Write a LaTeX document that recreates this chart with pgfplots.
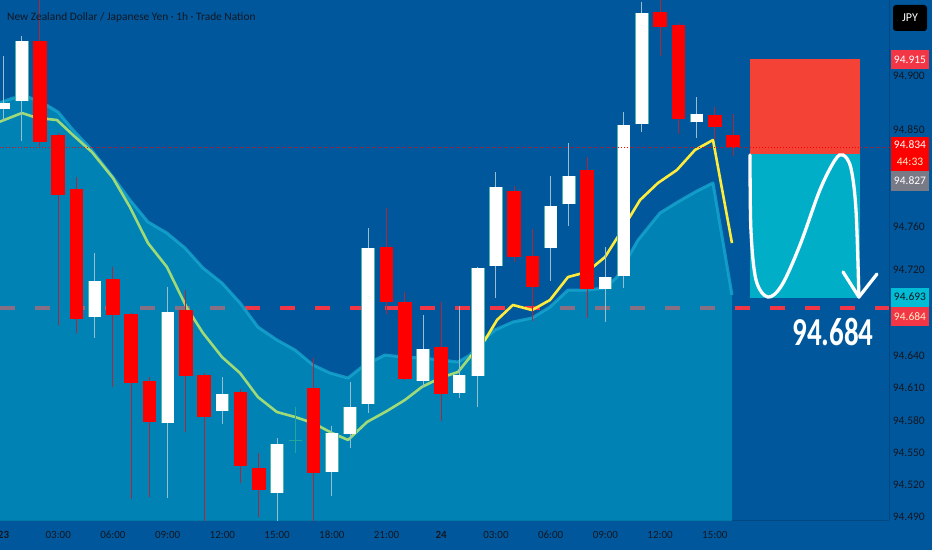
\documentclass[border=0pt]{standalone}
\usepackage{fontspec}
\setmainfont{Carlito}
\usepackage{pgfplots}
\pgfplotsset{compat=1.18}
\usepackage{pgfplotstable}
\definecolor{bg}{RGB}{1,87,155}
\definecolor{axl}{RGB}{0,72,132}
\definecolor{lbl}{RGB}{19,23,34}
\definecolor{areac}{RGB}{0,188,212}
\definecolor{edgec}{RGB}{25,170,210}
\definecolor{emag}{RGB}{160,218,120}
\definecolor{emay}{RGB}{255,235,59}
\definecolor{candr}{RGB}{255,0,0}
\definecolor{wickr}{RGB}{170,40,60}
\definecolor{wickw}{RGB}{150,190,205}
\definecolor{bordw}{RGB}{80,180,175}
\definecolor{dojic}{RGB}{38,166,154}
\definecolor{dashr}{RGB}{242,54,69}
\definecolor{posred}{RGB}{244,67,54}
\definecolor{posteal}{RGB}{0,174,200}
\definecolor{tagred}{RGB}{242,54,69}
\definecolor{taggrey}{RGB}{120,123,134}
\definecolor{tagcyan}{RGB}{0,188,212}
\definecolor{tagyel}{RGB}{255,240,200}

\pgfplotstableread{
h o hi lo c
0 94.8690 94.9186 94.8590 94.8752
1 94.8770 94.9372 94.8398 94.9328
5 94.6757 94.7357 94.6567 94.7097
9 94.5771 94.7041 94.5074 94.6803
12 94.5885 94.6204 94.5765 94.6046
15 94.5120 94.5637 94.4840 94.5576
18 94.5321 94.5746 94.5095 94.5684
19 94.5672 94.6152 94.5539 94.5920
20 94.5948 94.7587 94.5864 94.7398
23 94.6167 94.6778 94.6111 94.6465
25 94.6053 94.6862 94.6004 94.6217
26 94.6214 94.7220 94.5920 94.7218
27 94.7236 94.8110 94.6939 94.7971
30 94.7404 94.8070 94.7097 94.7791
31 94.7807 94.8374 94.7608 94.8073
33 94.7020 94.7413 94.6716 94.7134
34 94.7138 94.8668 94.7026 94.8547
35 94.8551 94.9691 94.8477 94.9583
38 94.8570 94.8808 94.8421 94.8644
}\bull

\pgfplotstableread{
h o hi lo c
2 94.9330 94.9750 94.8349 94.8386
3 94.8449 94.8473 94.6685 94.7896
4 94.7947 94.8058 94.6608 94.6741
6 94.7115 94.7227 94.6106 94.6778
7 94.6785 94.6794 94.5065 94.6143
8 94.6164 94.6204 94.5089 94.5780
10 94.6824 94.7010 94.5693 94.6211
11 94.6223 94.6235 94.4840 94.5832
13 94.6065 94.6087 94.5213 94.5374
14 94.5358 94.5492 94.4903 94.5151
17 94.6102 94.6381 94.4840 94.5312
21 94.7413 94.7770 94.6787 94.6896
22 94.6902 94.6995 94.6170 94.6183
24 94.6480 94.6902 94.5795 94.6044
28 94.7934 94.7977 94.7268 94.7314
29 94.7329 94.7578 94.6725 94.7036
32 94.8126 94.8250 94.6747 94.7020
36 94.9592 94.9750 94.9189 94.9453
37 94.9471 94.9490 94.8461 94.8597
39 94.8635 94.8709 94.8405 94.8523
40 94.8449 94.8647 94.8259 94.8343
}\bear

\pgfplotsset{candle/.style={forget plot, only marks, mark size=0pt, mark options={draw=none, fill=none}}}

\begin{document}
\begin{tikzpicture}[x=1pt,y=1pt]
\fill[bg] (0,0) rectangle (932,550);
\useasboundingbox (0,0) rectangle (932,550);
\begin{axis}[
  at={(0pt,30pt)}, anchor=south west,
  scale only axis, width=889pt, height=520pt,
  xmin=-0.1919, xmax=48.55, ymin=94.48721, ymax=94.97066,
  axis x line*=bottom, axis y line*=right,
  axis line style={draw=axl, line width=0.8pt, -},
  major tick length=0pt,
  scaled y ticks=false,
  ytick={94.49,94.52,94.55,94.58,94.61,94.64,94.72,94.76,94.85,94.90},
  /pgf/number format/.cd, fixed, fixed zerofill, precision=3, assume math mode=true,
  /pgfplots/.cd,
  yticklabel style={anchor=east, xshift=36pt, inner sep=0pt, text=lbl, font=\fontsize{11.5}{12}\selectfont},
  xtick={0,3,6,9,12,15,18,21,24,27,30,33,36,39},
  xticklabels={\textbf{23},03:00,06:00,09:00,12:00,15:00,18:00,21:00,\textbf{24},03:00,06:00,09:00,12:00,15:00},
  xticklabel style={anchor=center, yshift=-15pt, inner sep=0pt, text=lbl, font=\fontsize{11}{12}\selectfont},
  clip=true,
]
% dashed level line (under the transparent area)
\addplot[forget plot, dashr, line width=4pt, dash pattern=on 15pt off 20pt] coordinates {(-0.1919,94.684) (48.55,94.684)};
% area
\addplot[forget plot, fill=areac, fill opacity=0.44, draw=none] coordinates {
(-0.25,94.40) (-0.25,94.8749) (0.52,94.8795) (1.34,94.8805) (2.17,94.8749) (2.99,94.8665) (3.81,94.8498) (4.74,94.8331) (6.0,94.8061) (6.93,94.7847) (7.92,94.7643) (8.96,94.754) (9.95,94.7401) (10.94,94.7215) (11.98,94.7075) (12.97,94.689) (13.95,94.6666) (14.99,94.6546) (15.98,94.6453) (16.97,94.6313) (17.90,94.6239) (18.89,94.6192) (19.65,94.6295) (20.37,94.636) (20.91,94.6406) (21.90,94.6387) (22.94,94.6378) (23.93,94.636) (24.92,94.6341) (25.58,94.6406) (26.29,94.6546) (26.95,94.6639) (27.93,94.6713) (28.98,94.675) (29.96,94.6852) (30.95,94.701) (31.99,94.701) (32.98,94.7029) (33.64,94.7131) (34.79,94.7475) (35.99,94.7726) (36.97,94.7829) (38.02,94.7931) (38.90,94.8005) (39.94,94.6964) (39.94,94.40)
} -- cycle;
% area edge
\addplot[forget plot, edgec, line width=3pt, opacity=0.75, line join=round] coordinates {
(-0.25,94.8749) (0.52,94.8795) (1.34,94.8805) (2.17,94.8749) (2.99,94.8665) (3.81,94.8498) (4.74,94.8331) (6.0,94.8061) (6.93,94.7847) (7.92,94.7643) (8.96,94.754) (9.95,94.7401) (10.94,94.7215) (11.98,94.7075) (12.97,94.689) (13.95,94.6666) (14.99,94.6546) (15.98,94.6453) (16.97,94.6313) (17.90,94.6239) (18.89,94.6192) (19.65,94.6295) (20.37,94.636) (20.91,94.6406) (21.90,94.6387) (22.94,94.6378) (23.93,94.636) (24.92,94.6341) (25.58,94.6406) (26.29,94.6546) (26.95,94.6639) (27.93,94.6713) (28.98,94.675) (29.96,94.6852) (30.95,94.701) (31.99,94.701) (32.98,94.7029) (33.64,94.7131) (34.79,94.7475) (35.99,94.7726) (36.97,94.7829) (38.02,94.7931) (38.90,94.8005) (39.94,94.6964)
};
% EMA green part
\addplot[forget plot, emag, line width=2.6pt, line join=round] coordinates {
(-0.25,94.8572) (1.01,94.8656) (1.84,94.861) (2.93,94.8591) (3.81,94.8451) (4.85,94.8293) (6.0,94.8052) (6.93,94.7782) (7.92,94.7447) (8.96,94.7224) (10.06,94.6843) (10.94,94.661) (11.98,94.6387) (12.97,94.6238) (13.95,94.6015) (14.99,94.5876) (15.98,94.583) (16.97,94.5774) (18.01,94.5681) (18.89,94.5616) (19.93,94.5783) (21.02,94.5885) (22.01,94.5988) (22.94,94.6109) (23.93,94.6192) (24.92,94.6248) (25.58,94.6387)
};
% EMA yellow part
\addplot[forget plot, emay, line width=2.6pt, line join=round] coordinates {
(25.58,94.6387) (26.40,94.6546) (27.06,94.6732) (27.93,94.6871) (28.98,94.6824) (29.96,94.6917) (30.95,94.7131) (31.99,94.7178) (32.98,94.7317) (33.64,94.7494) (34.90,94.7847) (35.88,94.8005) (36.92,94.8126) (37.91,94.8312) (38.90,94.8405) (39.94,94.7447)
};
% wicks
\addplot[candle, error bars/.cd, y dir=plus, y explicit, error mark=none, error bar style={line width=1pt, draw=wickw}]
  table[x=h, y=lo, y error expr=\thisrow{hi}-\thisrow{lo}] {\bull};
\addplot[candle, error bars/.cd, y dir=plus, y explicit, error mark=none, error bar style={line width=1pt, draw=wickr}]
  table[x=h, y=lo, y error expr=\thisrow{hi}-\thisrow{lo}] {\bear};
% bodies
\addplot[candle, error bars/.cd, y dir=plus, y explicit, error mark=none, error bar style={line width=13.6pt, draw=bordw}]
  table[x=h, y=o, y error expr=\thisrow{c}-\thisrow{o}] {\bull};
\addplot[candle, error bars/.cd, y dir=plus, y explicit, error mark=none, error bar style={line width=12pt, draw=white}]
  table[x=h, y=o, y error expr=\thisrow{c}-\thisrow{o}] {\bull};
\addplot[candle, error bars/.cd, y dir=plus, y explicit, error mark=none, error bar style={line width=13.6pt, draw=candr}]
  table[x=h, y=c, y error expr=\thisrow{o}-\thisrow{c}] {\bear};
% doji
\addplot[forget plot, dojic, line width=1pt] coordinates {(16,94.5492) (16,94.5920)};
\addplot[forget plot, dojic, line width=1.2pt] coordinates {(15.627,94.5609) (16.373,94.5609)};
% position boxes
\addplot[forget plot, fill=posred, draw=none] coordinates {(40.93,94.8275) (46.96,94.8275) (46.96,94.9155) (40.93,94.9155)} -- cycle;
\addplot[forget plot, fill=posteal, draw=none] coordinates {(40.93,94.6933) (46.96,94.6933) (46.96,94.8275) (40.93,94.8275)} -- cycle;
% current price dotted line
\addplot[forget plot, candr, line width=0.7pt, dash pattern=on 1pt off 2pt] coordinates {(-0.1919,94.834) (48.55,94.834)};
% white arrow path
\addplot[forget plot, white, line width=3.3pt, smooth, tension=0.55, line cap=round] coordinates {
(40.93,94.8266) (40.98,94.7568) (41.26,94.7103) (41.91,94.6945) (42.68,94.7057) (43.67,94.7429) (44.76,94.794) (45.59,94.8219) (46.03,94.8266) (46.46,94.8145) (46.74,94.7754) (46.90,94.6945)
};
\addplot[forget plot, white, line width=3.3pt, line cap=round, line join=round] coordinates {(46.03,94.7178) (46.90,94.6945) (47.89,94.7159)};
\end{axis}
% title
\node[anchor=west, inner sep=0pt, text=lbl, font=\fontsize{11.4}{13}\selectfont] at (7,533) {New Zealand Dollar / Japanese Yen · 1h · Trade Nation};
% big target label
\node[text=white, inner sep=0pt, font=\fontsize{33}{36}\selectfont\bfseries] at (833,218) {\scalebox{0.88}[1.2]{94.684}};
% right side tags
\node[fill=black, rounded corners=3pt, minimum width=34pt, minimum height=26pt, inner sep=0pt, text=white, font=\fontsize{12}{13}\selectfont] at (910,532) {JPY};
\fill[tagred] (891,481) rectangle (929,500);
\node[text=white, inner sep=0pt, font=\fontsize{11.5}{12}\selectfont] at (910,490.5) {94.915};
\fill[candr] (891,379) rectangle (929,413);
\node[text=white, inner sep=0pt, font=\fontsize{11.5}{12}\selectfont] at (910,405) {94.834};
\node[text=tagyel, inner sep=0pt, font=\fontsize{11.5}{12}\selectfont] at (910,388) {44:33};
\fill[taggrey] (891,359) rectangle (929,379);
\node[text=white, inner sep=0pt, font=\fontsize{11.5}{12}\selectfont] at (910,369) {94.827};
\fill[tagcyan] (891,243.5) rectangle (929,262);
\node[text=lbl, inner sep=0pt, font=\fontsize{11.5}{12}\selectfont] at (910,253) {94.693};
\fill[tagred] (891,224) rectangle (929,243.5);
\node[text=tagyel, inner sep=0pt, font=\fontsize{11.5}{12}\selectfont] at (910,233.5) {94.684};
\end{tikzpicture}
\end{document}
